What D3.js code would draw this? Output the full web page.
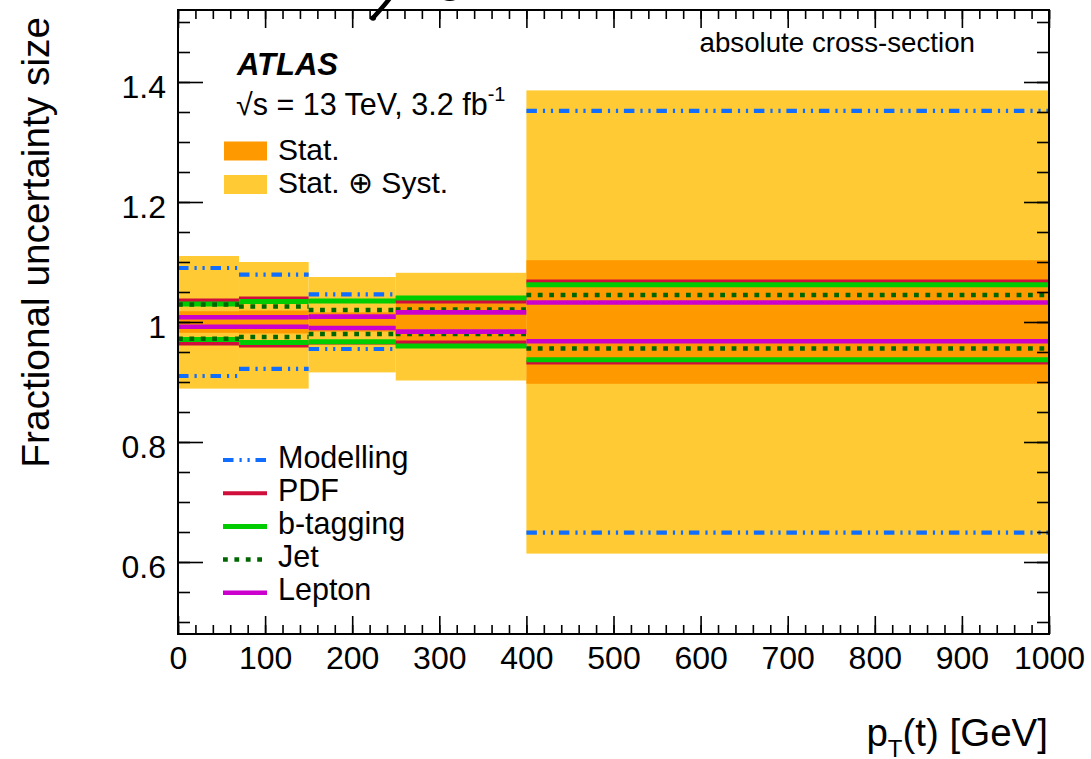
<!DOCTYPE html>
<html>
<head>
<meta charset="utf-8">
<script src="https://cdn.jsdelivr.net/npm/d3@7"></script>
<style>
  html, body { margin: 0; padding: 0; background: #fff; }
  svg { display: block; font-family: "Liberation Sans", Arial, Helvetica, sans-serif; }
</style>
</head>
<body>
<svg id="chart" width="1091" height="759"></svg>
<script>
// Bin edges of the top-quark pT distribution [GeV]
const binEdges = [0, 70, 150, 250, 400, 1000];

// Uncertainty bands (upper / lower edge of each bin, relative to 1)
const totalUp   = [1.110, 1.100, 1.075, 1.082, 1.386];
const totalDown = [0.889, 0.889, 0.916, 0.9025, 0.614];
const statUp    = [1.018, 1.019, 1.016, 1.036, 1.103];
const statDown  = [0.982, 0.981, 0.984, 0.964, 0.897];

// Individual systematic sources
const modellingUp   = [1.090, 1.079, 1.046, 1.040, 1.352];
const modellingDown = [0.910, 0.922, 0.955, 0.960, 0.649];
const pdfUp         = [1.036, 1.039, 1.035, 1.034, 1.0675];
const pdfDown       = [0.964, 0.961, 0.966, 0.966, 0.9325];
const btagUp        = [1.030, 1.034, 1.035, 1.040, 1.062];
const btagDown      = [0.971, 0.966, 0.967, 0.960, 0.937];
const jetUp         = [1.029, 1.026, 1.020, 1.021, 1.045];
const jetDown       = [0.972, 0.975, 0.980, 0.980, 0.956];
const leptonUp      = [1.008, 1.008, 1.009, 1.016, 1.0325];
const leptonDown    = [0.992, 0.992, 0.990, 0.984, 0.968];

// Axis ticks
const xMajorTicks = [0, 100, 200, 300, 400, 500, 600, 700, 800, 900, 1000];
const xMinorTicks = d3.range(0, 1001, 20);
const yMajorTicks = [0.6, 0.8, 1, 1.2, 1.4];
const yMinorTicks = d3.range(50, 151, 5).map(v => v / 100);

const sources = [
  { name: "Modelling",  up: modellingUp, down: modellingDown, color: "#0f6dff", width: 4.2, dash: "10.5,6,2.2,5.8,2.2,5.8" },
  { name: "PDF",        up: pdfUp,       down: pdfDown,       color: "#cf0e3c", width: 4,   dash: null },
  { name: "b-tagging",  up: btagUp,      down: btagDown,      color: "#00cc00", width: 5,   dash: null },
  { name: "Jet",        up: jetUp,       down: jetDown,       color: "#006600", width: 4.5, dash: "4.8,6.6" },
  { name: "Lepton",     up: leptonUp,    down: leptonDown,    color: "#cc00cc", width: 4.6, dash: null }
];

const colTotal = "#ffca33";
const colStat  = "#ff9900";

const svg = d3.select("#chart");
const frameL = 178, frameR = 1049, frameT = 10, frameB = 634;

const x = d3.scaleLinear().domain([0, 1000]).range([frameL, frameR]);
const y = d3.scaleLinear().domain([0.48, 1.52]).range([frameB, frameT]);

const bins = d3.range(binEdges.length - 1).map(i => ({ lo: binEdges[i], hi: binEdges[i + 1], i }));

// Stat ⊕ Syst band, then Stat band
svg.append("g").selectAll("rect").data(bins).join("rect")
  .attr("x", d => x(d.lo)).attr("width", d => x(d.hi) - x(d.lo))
  .attr("y", d => y(totalUp[d.i])).attr("height", d => y(totalDown[d.i]) - y(totalUp[d.i]))
  .attr("fill", colTotal);

svg.append("g").selectAll("rect").data(bins).join("rect")
  .attr("x", d => x(d.lo)).attr("width", d => x(d.hi) - x(d.lo))
  .attr("y", d => y(statUp[d.i])).attr("height", d => y(statDown[d.i]) - y(statUp[d.i]))
  .attr("fill", colStat);

// Systematic source lines: one horizontal segment per bin edge (up and down)
sources.forEach(s => {
  const segs = [];
  bins.forEach(b => {
    segs.push({ x0: b.lo, x1: b.hi, v: s.up[b.i] });
    segs.push({ x0: b.lo, x1: b.hi, v: s.down[b.i] });
  });
  svg.append("g").selectAll("line").data(segs).join("line")
    .attr("x1", d => x(d.x0)).attr("x2", d => x(d.x1))
    .attr("y1", d => y(d.v)).attr("y2", d => y(d.v))
    .attr("stroke", s.color).attr("stroke-width", s.width)
    .attr("stroke-dasharray", s.dash);
});

// Axes (ticks pointing inward, mirrored on the opposite sides)
const fontTick = 32;
function styleAxis(g) {
  g.select(".domain").remove();
  g.selectAll(".tick line").attr("stroke", "#000").attr("stroke-width", 1.6);
  g.selectAll(".tick text").attr("fill", "#000").attr("font-size", fontTick)
    .attr("font-family", "'Liberation Sans', Arial, sans-serif");
}

svg.append("g").attr("transform", `translate(0,${frameB})`)
  .call(d3.axisBottom(x).tickValues(xMinorTicks).tickSize(-9).tickFormat(""))
  .call(styleAxis);
svg.append("g").attr("transform", `translate(0,${frameB})`)
  .call(d3.axisBottom(x).tickValues(xMajorTicks).tickSize(-18).tickPadding(12).tickFormat(d3.format("d")))
  .call(styleAxis);
svg.append("g").attr("transform", `translate(0,${frameT})`)
  .call(d3.axisTop(x).tickValues(xMinorTicks).tickSize(-9).tickFormat(""))
  .call(styleAxis);
svg.append("g").attr("transform", `translate(0,${frameT})`)
  .call(d3.axisTop(x).tickValues(xMajorTicks).tickSize(-18).tickFormat(""))
  .call(styleAxis);

svg.append("g").attr("transform", `translate(${frameL},0)`)
  .call(d3.axisLeft(y).tickValues(yMinorTicks).tickSize(-12).tickFormat(""))
  .call(styleAxis);
svg.append("g").attr("transform", `translate(${frameL},0)`)
  .call(d3.axisLeft(y).tickValues(yMajorTicks).tickSize(-25).tickPadding(12).tickFormat(d3.format("")))
  .call(styleAxis)
  .call(g => g.selectAll(".tick text").attr("dy", "0.47em"));
svg.append("g").attr("transform", `translate(${frameR},0)`)
  .call(d3.axisRight(y).tickValues(yMinorTicks).tickSize(-12).tickFormat(""))
  .call(styleAxis);
svg.append("g").attr("transform", `translate(${frameR},0)`)
  .call(d3.axisRight(y).tickValues(yMajorTicks).tickSize(-25).tickFormat(""))
  .call(styleAxis);

// Frame
svg.append("rect").attr("x", frameL).attr("y", frameT)
  .attr("width", frameR - frameL).attr("height", frameB - frameT)
  .attr("fill", "none").attr("stroke", "#000").attr("stroke-width", 2);

// Glyph pieces of the heading that sits above the frame
svg.append("path").attr("class", "overflow-glyphs")
  .attr("d", "M390,-2 C384,6 378,12 373,18")
  .attr("fill", "none").attr("stroke", "#000").attr("stroke-width", 4.5).attr("stroke-linecap", "round");
svg.append("ellipse").attr("cx", 373).attr("cy", 18).attr("rx", 3).attr("ry", 2.6).attr("fill", "#000");
svg.append("path")
  .attr("d", "M439,-4 C442,2 456,3 461,-4 Z")
  .attr("fill", "#000");

// Axis titles
svg.append("text")
  .attr("transform", "translate(48.5,17) rotate(-90)")
  .attr("text-anchor", "end").attr("font-size", 38.8).attr("fill", "#000")
  .text("Fractional uncertainty size");

const xt = svg.append("text").attr("x", 1048).attr("y", 746)
  .attr("text-anchor", "end").attr("font-size", 38.5).attr("fill", "#000");
xt.append("tspan").text("p");
xt.append("tspan").attr("font-size", 24).attr("dy", 11).text("T");
xt.append("tspan").attr("dy", -11).text("(t) [GeV]");

// Labels inside the frame
svg.append("text").attr("x", 975).attr("y", 52).attr("text-anchor", "end")
  .attr("font-size", 27.7).attr("fill", "#000").text("absolute cross-section");

svg.append("text").attr("x", 237).attr("y", 75)
  .attr("font-size", 31).attr("font-weight", "bold").attr("font-style", "italic")
  .attr("fill", "#000").text("ATLAS");

const lumi = svg.append("text").attr("x", 236).attr("y", 115).attr("font-size", 30.5).attr("fill", "#000");
lumi.append("tspan").text("√s = 13 TeV, 3.2 fb");
lumi.append("tspan").attr("font-size", 20).attr("dy", -14).text("-1");

// Band legend
const bandLegend = [
  { label: "Stat.", color: colStat, yBox: 141.5 },
  { label: "Stat. ⊕ Syst.", color: colTotal, yBox: 175 }
];
bandLegend.forEach(d => {
  svg.append("rect").attr("x", 224).attr("y", d.yBox).attr("width", 43).attr("height", 19).attr("fill", d.color);
  svg.append("text").attr("x", 278).attr("y", d.yBox + 18).attr("font-size", 30).attr("fill", "#000").text(d.label);
});

// Source legend
sources.forEach((s, k) => {
  const ly = 460 + k * 33.2;
  svg.append("line").attr("x1", 223).attr("x2", 267).attr("y1", ly).attr("y2", ly)
    .attr("stroke", s.color).attr("stroke-width", s.width).attr("stroke-dasharray", s.dash);
  svg.append("text").attr("x", 278).attr("y", ly + 7.5).attr("font-size", 30.5).attr("fill", "#000").text(s.name);
});
</script>
</body>
</html>
